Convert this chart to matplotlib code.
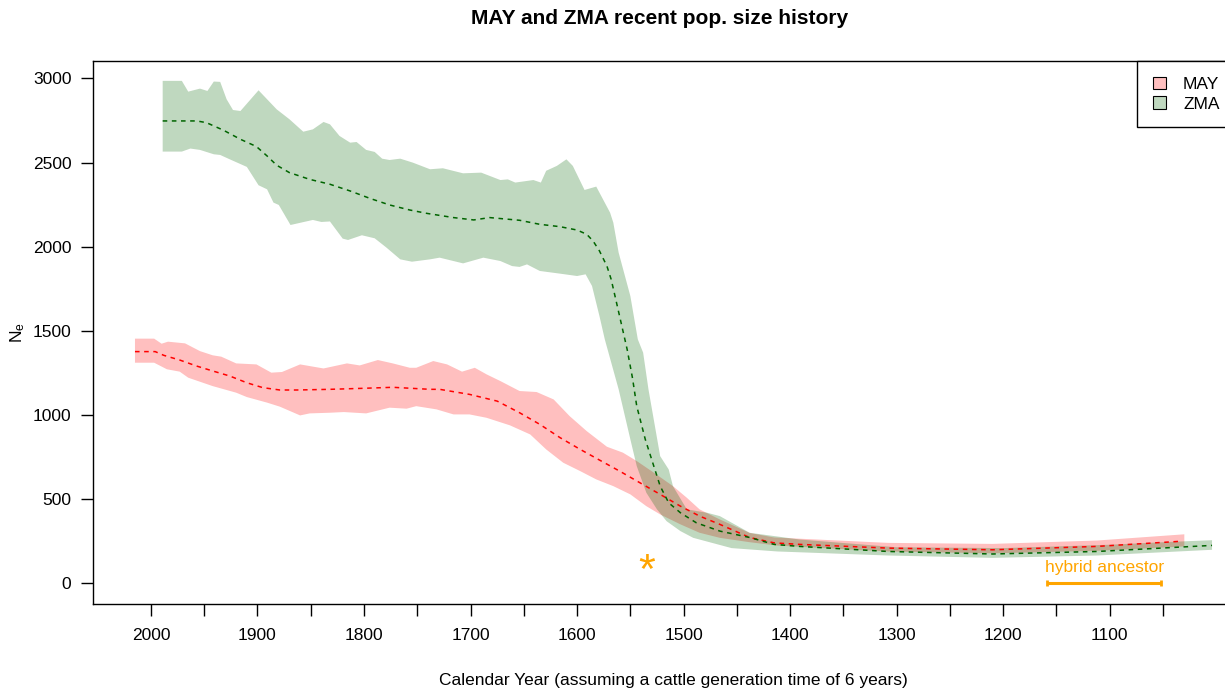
import numpy as np
import matplotlib
matplotlib.use("Agg")
import matplotlib.pyplot as plt
from matplotlib.patches import Patch

plt.rcParams['font.family'] = ['Liberation Sans', 'DejaVu Sans']

# ZMA: 95% band and median (year, Ne)
zma_up_year = [1989, 1971, 1965, 1954, 1947, 1941, 1935, 1929, 1923, 1916, 1899, 1882, 1870, 1857,
               1848, 1838, 1832, 1823, 1813, 1807, 1798, 1790, 1783, 1776, 1766, 1754, 1738, 1726,
               1707, 1690, 1672, 1665, 1658, 1641, 1634, 1629, 1619, 1610, 1604, 1593, 1582, 1569,
               1566, 1561, 1550, 1543, 1538, 1533, 1522, 1514, 1510, 1497, 1478, 1466, 1438, 1391,
               1300, 1200, 1100, 1050, 1004]
zma_up = [2985, 2985, 2921, 2939, 2925, 2981, 2979, 2876, 2812, 2806, 2929, 2816, 2757, 2683,
          2697, 2741, 2727, 2658, 2618, 2622, 2575, 2563, 2523, 2515, 2523, 2499, 2460, 2466,
          2436, 2440, 2396, 2400, 2381, 2396, 2381, 2451, 2480, 2519, 2480, 2337, 2357, 2202,
          2143, 1965, 1707, 1450, 1371, 1153, 756, 677, 578, 440, 420, 400, 301, 261,
          215, 210, 230, 245, 257]
zma_lo_year = [1989, 1971, 1963, 1954, 1941, 1935, 1926, 1910, 1899, 1891, 1885, 1880, 1869, 1848,
               1840, 1832, 1820, 1815, 1802, 1790, 1779, 1766, 1755, 1738, 1729, 1707, 1688, 1672,
               1661, 1654, 1647, 1635, 1616, 1600, 1592, 1586, 1579, 1574, 1561, 1550, 1544, 1535,
               1525, 1516, 1503, 1491, 1455, 1412, 1308, 1210, 1112, 1004]
zma_lo = [2565, 2565, 2583, 2575, 2549, 2545, 2519, 2474, 2365, 2341, 2262, 2248, 2129, 2159,
          2147, 2150, 2048, 2040, 2068, 2050, 1995, 1925, 1911, 1925, 1935, 1901, 1935, 1915,
          1885, 1880, 1895, 1856, 1840, 1826, 1836, 1767, 1588, 1450, 1153, 856, 697, 539,
          440, 370, 311, 271, 210, 190, 166, 152, 166, 200]
zma_mid_year = [1989, 1957, 1948, 1932, 1916, 1901, 1891, 1882, 1870, 1851, 1832, 1813, 1794, 1776,
                1757, 1741, 1716, 1697, 1682, 1654, 1635, 1616, 1600, 1591, 1585, 1579, 1572, 1568,
                1563, 1558, 1553, 1548, 1544, 1536, 1528, 1522, 1514, 1503, 1488, 1466, 1438, 1415,
                1391, 1308, 1210, 1112, 1004]
zma_mid = [2747, 2747, 2737, 2692, 2638, 2595, 2539, 2484, 2440, 2400, 2371, 2331, 2286, 2248,
           2218, 2198, 2173, 2159, 2173, 2157, 2133, 2119, 2099, 2074, 2034, 1975, 1885, 1806,
           1668, 1529, 1390, 1220, 1053, 856, 697, 578, 479, 420, 360, 311, 273, 232,
           220, 190, 175, 190, 226]

# MAY: 95% band and median (year, Ne)
may_up_year = [2015, 1997, 1990, 1984, 1968, 1954, 1942, 1934, 1920, 1901, 1887, 1877, 1860, 1838,
               1816, 1804, 1787, 1773, 1757, 1751, 1735, 1722, 1708, 1696, 1685, 1672, 1654, 1638,
               1622, 1607, 1591, 1572, 1557, 1544, 1528, 1510, 1497, 1485, 1466, 1438, 1415, 1308,
               1210, 1112, 1030]
may_up = [1454, 1454, 1424, 1436, 1426, 1380, 1355, 1347, 1307, 1301, 1252, 1256, 1301, 1277,
          1307, 1295, 1327, 1307, 1281, 1281, 1321, 1301, 1258, 1281, 1242, 1202, 1143, 1137,
          1093, 994, 905, 812, 777, 727, 658, 578, 509, 440, 380, 300, 273, 241,
          235, 255, 292]
may_lo_year = [2015, 1997, 1985, 1973, 1965, 1942, 1920, 1910, 1891, 1879, 1860, 1851, 1832, 1819,
               1798, 1776, 1760, 1751, 1732, 1716, 1701, 1685, 1663, 1644, 1629, 1613, 1597, 1582,
               1566, 1550, 1535, 1522, 1503, 1485, 1466, 1438, 1412, 1308, 1210, 1112, 1030]
may_lo = [1311, 1311, 1272, 1258, 1222, 1172, 1133, 1107, 1074, 1050, 998, 1010, 1014, 1018,
          1010, 1044, 1038, 1053, 1034, 1004, 1004, 984, 939, 885, 796, 717, 667, 618,
          578, 529, 459, 410, 351, 301, 271, 245, 225, 190, 179, 194, 220]
may_mid_year = [2015, 1996, 1988, 1973, 1957, 1942, 1926, 1910, 1895, 1879, 1863, 1832, 1801, 1773,
                1738, 1729, 1701, 1675, 1654, 1635, 1616, 1597, 1579, 1560, 1541, 1522, 1503, 1485,
                1466, 1438, 1415, 1391, 1308, 1210, 1112, 1032]
may_mid = [1377, 1377, 1355, 1327, 1291, 1262, 1232, 1192, 1163, 1149, 1149, 1153, 1159, 1165,
           1153, 1153, 1123, 1083, 1014, 945, 866, 796, 733, 667, 598, 529, 459, 400,
           351, 273, 241, 232, 210, 200, 220, 251]

# annotations
star_year, star_ne = 1535, 125
hybrid_years = [1159, 1052]
hybrid_label_pos = (1105, 93)

x_ticks = np.arange(2000, 1049, -50)
y_ticks = np.arange(0, 3001, 500)

fig = plt.figure(figsize=(12.25, 6.9), dpi=100)
ax = fig.add_axes([93 / 1225, 1 - 604 / 690, (1254 - 93) / 1225, (604 - 61) / 690])

may_fill = (1, 0, 0, 0.25)
zma_fill = (0, 100 / 255, 0, 0.25)

ax.fill(may_up_year + may_lo_year[::-1], may_up + may_lo[::-1], color=may_fill, lw=0)
ax.fill(zma_up_year + zma_lo_year[::-1], zma_up + zma_lo[::-1], color=zma_fill, lw=0)
ax.plot(may_mid_year, may_mid, color='red', lw=1.1, dashes=(3, 3))
ax.plot(zma_mid_year, zma_mid, color='darkgreen', lw=1.1, dashes=(3, 3))

ax.annotate('*', (star_year, star_ne), xytext=(0, -15), textcoords='offset points',
            ha='center', va='baseline', fontsize=31, color='orange')
ax.plot(hybrid_years, [0, 0], color='orange', lw=2.2, solid_capstyle='butt')
ax.plot(hybrid_years, [0, 0], ls='none', marker='|', ms=5, mew=2, color='orange')
ax.text(hybrid_label_pos[0], hybrid_label_pos[1], 'hybrid ancestor', color='orange',
        ha='center', va='center', fontsize=12.5)

ax.set_xlim(2054.4, 964.6)
ax.set_ylim(-122, 3103)
ax.set_xticks(x_ticks)
ax.set_xticklabels([str(y) if y % 100 == 0 else '' for y in x_ticks])
ax.set_yticks(y_ticks)
ax.tick_params(labelsize=12.5, length=8.5, width=1)
ax.tick_params(axis='x', pad=8.5)
ax.tick_params(axis='y', pad=7)
for s in ax.spines.values():
    s.set_linewidth(1)

ax.set_xlabel('Calendar Year (assuming a cattle generation time of 6 years)', fontsize=12.5, labelpad=22)
fig.text(18 / 1225, 1 - 333 / 690, r'$\mathregular{N_e}$', rotation=90, ha='center', va='center',
         fontsize=12.5)
fig.text(660 / 1225, 1 - 18 / 690, 'MAY and ZMA recent pop. size history', ha='center', va='center',
         fontsize=15, fontweight='bold')

leg = ax.legend(handles=[Patch(facecolor=may_fill, edgecolor='black', lw=0.8, label='MAY'),
                         Patch(facecolor=zma_fill, edgecolor='black', lw=0.8, label='ZMA')],
                loc='upper left', bbox_to_anchor=(1137 / 1225, 1 - 61 / 690),
                bbox_transform=fig.transFigure, borderaxespad=0, fancybox=False,
                edgecolor='black', framealpha=1, fontsize=12.5, handlelength=0.75,
                handleheight=0.75, handletextpad=1.0, labelspacing=0.25, borderpad=0.9)
leg.get_frame().set_linewidth(1)

fig.savefig('out.png', dpi=100)
